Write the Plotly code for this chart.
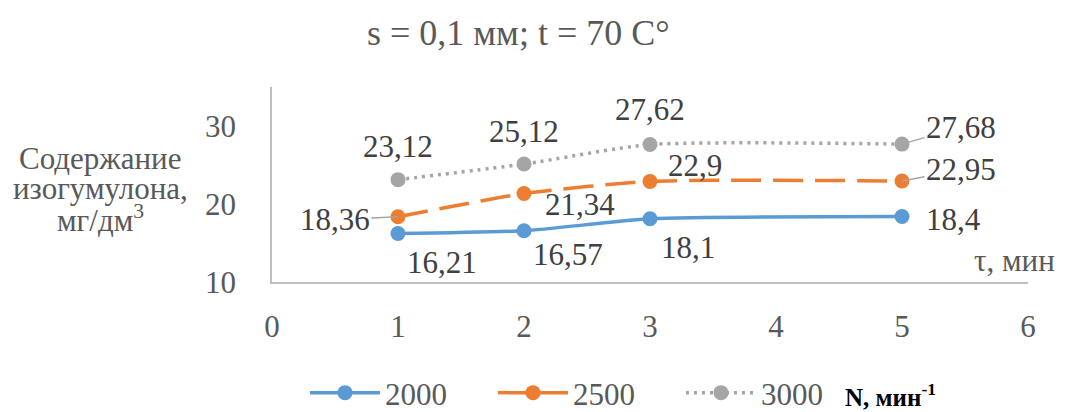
import plotly.graph_objects as go

# ---- data ----
tau = [1, 2, 3, 5]
n2000 = [16.21, 16.57, 18.1, 18.4]
n2500 = [18.36, 21.34, 22.9, 22.95]
n3000 = [23.12, 25.12, 27.62, 27.68]
series_names = ["2000", "2500", "3000"]
x_ticks = [0, 1, 2, 3, 4, 5, 6]
y_ticks = [10, 20, 30]

FONT = "Liberation Serif, Times New Roman, serif"
GRAY_TXT = "#595959"
LBL_TXT = "#404040"
colors = ["#5B9BD5", "#ED7D31", "#A5A5A5"]
dashes = ["solid", "30px,12px", "3px,5px"]

# label offsets (pixels): (xshift, yshift, xanchor, leader(ax, ay) or None)
offsets = [
    [(44, -29, "center", None), (44, -24, "center", None), (38, -29, "center", None), (22, -3, "left", None)],
    [(0, 0, "center", (-63, 3)), (56, -11, "center", None), (45, 16, "center", None), (0, 0, "center", (59, -11))],
    [(0, 33, "center", None), (0, 33, "center", None), (0, 35, "center", None), (0, 0, "center", (59, -17))],
]

fig = go.Figure()
all_vals = [n2000, n2500, n3000]
for i, (name, vals) in enumerate(zip(series_names, all_vals)):
    fig.add_trace(go.Scatter(
        x=tau, y=vals, name=name, mode="lines+markers",
        line=dict(color=colors[i], width=3.5, dash=dashes[i], shape="spline", smoothing=0.6),
        marker=dict(color=colors[i], size=15, line=dict(width=0)),
    ))

annotations = []
for i, vals in enumerate(all_vals):
    for j, (xv, yv) in enumerate(zip(tau, vals)):
        xs, ys, xa, leader = offsets[i][j]
        txt = f"{yv:g}".replace(".", ",")
        if leader is None:
            annotations.append(dict(x=xv, y=yv, xref="x", yref="y", text=txt, showarrow=False,
                                    xshift=xs, yshift=ys, xanchor=xa,
                                    font=dict(family=FONT, size=31, color=LBL_TXT)))
        else:
            annotations.append(dict(x=xv, y=yv, xref="x", yref="y", text=txt, showarrow=True,
                                    ax=leader[0], ay=leader[1], axref="pixel", ayref="pixel",
                                    arrowhead=0, arrowwidth=1.5, arrowcolor="#A6A6A6", standoff=0,
                                    font=dict(family=FONT, size=31, color=LBL_TXT)))

# title
annotations.append(dict(x=(518 - 272) / 756, y=1, xref="paper", yref="paper", yshift=87 - 33,
                         text="s = 0,1 мм; t = 70 C°", showarrow=False, xanchor="center", yanchor="middle",
                         font=dict(family=FONT, size=36, color=GRAY_TXT)))
# y-axis title (three lines)
for k, line in enumerate(["Содержание", "изогумулона,", "мг/дм<sup>3</sup>"]):
    annotations.append(dict(x=(100 - 272) / 756, y=(282 - (158 + 30 * k)) / 195, xref="paper", yref="paper",
                            text=line, showarrow=False, xanchor="center", yanchor="middle",
                            font=dict(family=FONT, size=31, color=GRAY_TXT)))
# x-axis title
annotations.append(dict(x=(1057 - 272) / 756, y=(282 - 260) / 195, xref="paper", yref="paper",
                        text="τ, мин", showarrow=False, xanchor="right", yanchor="middle",
                        font=dict(family=FONT, size=31, color=GRAY_TXT)))
# legend unit
annotations.append(dict(x=(843 - 272) / 756, y=(282 - 395) / 195, xref="paper", yref="paper",
                        text="<b>N, мин<sup>-1</sup></b>", showarrow=False, xanchor="left", yanchor="middle",
                        font=dict(family=FONT, size=25, color="#000000")))

fig.update_layout(
    width=1070, height=412,
    margin=dict(l=272, r=42, t=87, b=130, autoexpand=False),
    paper_bgcolor="white", plot_bgcolor="white",
    showlegend=True,
    legend=dict(orientation="h", x=(305 - 272) / 756, y=(282 - 393) / 195, xanchor="left", yanchor="middle",
                font=dict(family=FONT, size=31, color=GRAY_TXT), entrywidth=103, entrywidthmode="pixels",
                itemwidth=70),
    annotations=annotations,
)
fig.update_xaxes(range=[0, 6], tickvals=x_ticks, showgrid=False, zeroline=False,
                 showline=True, linecolor="#BFBFBF", linewidth=1.5, ticks="",
                 ticklabelstandoff=16,
                 tickfont=dict(family=FONT, size=31, color=GRAY_TXT))
fig.update_yaxes(range=[10, 35], tickvals=y_ticks, showgrid=False, zeroline=False,
                 showline=True, linecolor="#BFBFBF", linewidth=1.5, ticks="",
                 ticklabelstandoff=28,
                 tickfont=dict(family=FONT, size=31, color=GRAY_TXT))

fig.write_html("out.html")
